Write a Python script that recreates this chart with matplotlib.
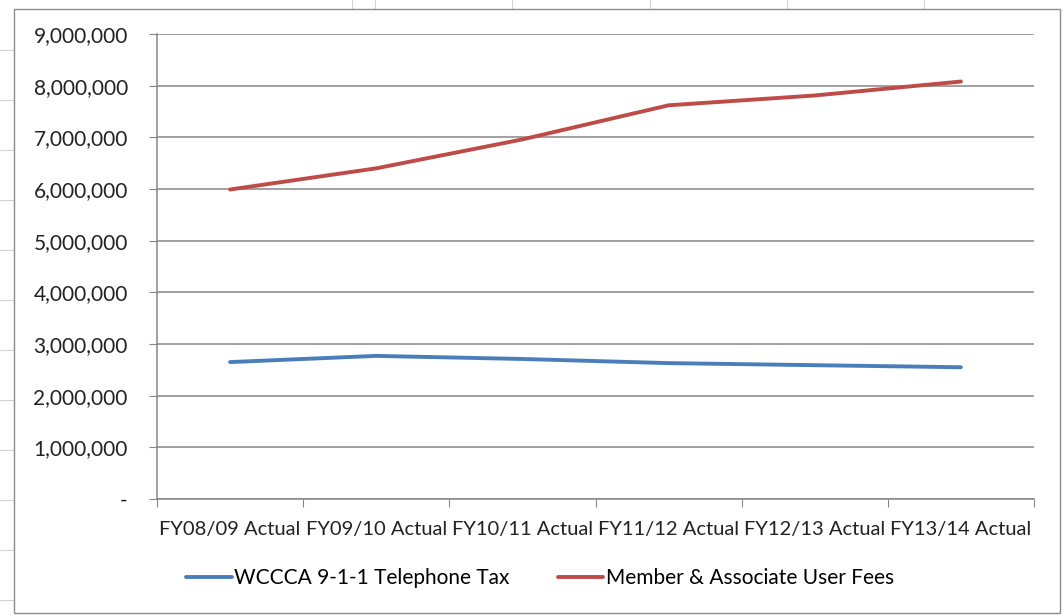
import numpy as np
import matplotlib.pyplot as plt
from matplotlib.ticker import FuncFormatter
from matplotlib.lines import Line2D
from matplotlib.patches import Rectangle

categories = ["FY08/09 Actual", "FY09/10 Actual", "FY10/11 Actual",
              "FY11/12 Actual", "FY12/13 Actual", "FY13/14 Actual"]
phone_tax = [2650000, 2770000, 2710000, 2630000, 2590000, 2550000]
user_fees = [5990000, 6400000, 6960000, 7620000, 7810000, 8080000]

plt.rcParams['font.family'] = ['Lato', 'DejaVu Sans']
fs = 14.5

fig = plt.figure(figsize=(10.62, 6.15), dpi=100)

# spreadsheet cell lines behind the chart
for xv in [352, 375, 512, 650, 787, 924]:
    fig.add_artist(Line2D([xv / 1062, xv / 1062], [1, 0.985], color="#d4d4d4", lw=0.8, zorder=-2))
for yv in [50, 100, 150, 200, 250, 300, 350, 400, 450, 500, 550, 600]:
    fig.add_artist(Line2D([0, 0.012], [1 - yv / 615, 1 - yv / 615], color="#d4d4d4", lw=0.8, zorder=-2))
fig.add_artist(Rectangle((14 / 1062, 2 / 615), 1046 / 1062, 604 / 615, fill=True,
                         facecolor="white", edgecolor="#8c8c8c", lw=1.0, zorder=-1))

ax = fig.add_axes([157 / 1062, 116 / 615, 877 / 1062, 465 / 615])
ax.patch.set_alpha(0)
x = np.arange(len(categories))
ax.plot(x, phone_tax, color="#4A7EBB", lw=2.8, solid_capstyle="round",
        label="WCCCA 9-1-1 Telephone Tax")
ax.plot(x, user_fees, color="#BE4B48", lw=2.8, solid_capstyle="round",
        label="Member & Associate User Fees")

ax.set_xlim(-0.5, len(categories) - 0.5)
ax.set_ylim(0, 9000000)
ax.set_yticks(np.arange(0, 9000001, 1000000))
ax.yaxis.set_major_formatter(FuncFormatter(lambda v, p: "-" if v == 0 else f"{v:,.0f}"))
ax.grid(axis="y", color="#868686", lw=1.1)
ax.set_axisbelow(True)

ax.set_xticks(np.arange(-0.5, len(categories), 1.0))
ax.set_xticklabels([])
ax.set_xticks(x, minor=True)
ax.set_xticklabels(categories, minor=True)
ax.tick_params(axis="x", which="minor", length=0, pad=16, labelsize=fs, colors="#222222")
ax.tick_params(axis="x", which="major", length=6, color="#868686")
ax.tick_params(axis="y", length=6, color="#868686", labelsize=15, labelcolor="#222222", pad=15)

for s in ["top", "right"]:
    ax.spines[s].set_visible(False)
for s in ["left", "bottom"]:
    ax.spines[s].set_color("#868686")
    ax.spines[s].set_linewidth(1.1)

fig.legend(loc="center", bbox_to_anchor=(0.5085, 1 - 578 / 615), ncol=2, frameon=False,
           fontsize=15, handlelength=2.2, handletextpad=0.1, columnspacing=2.3)

fig.savefig("out.png", dpi=100)
